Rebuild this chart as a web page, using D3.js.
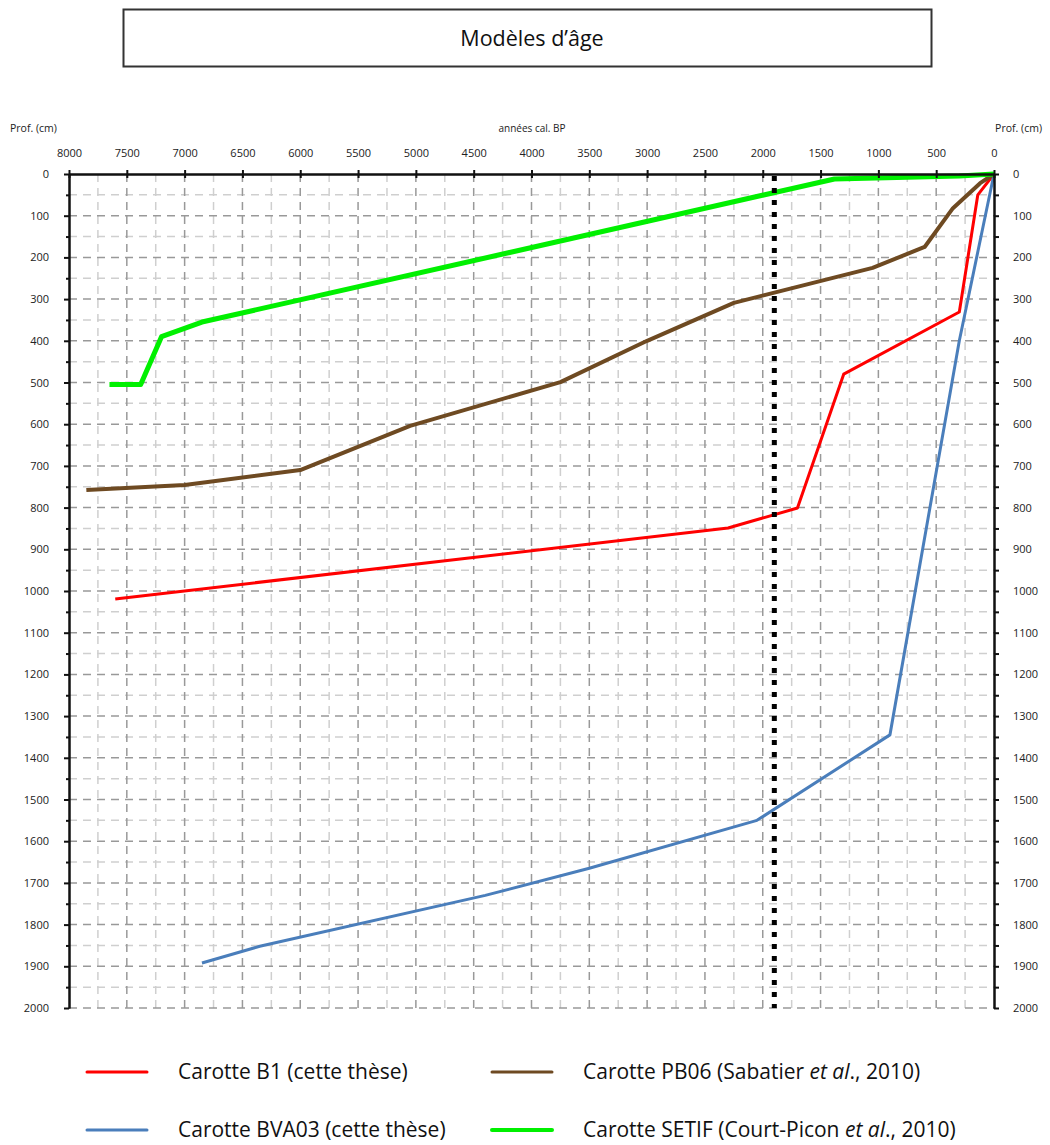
<!DOCTYPE html>
<html>
<head>
<meta charset="utf-8">
<script src="https://cdn.jsdelivr.net/npm/d3@7"></script>
<style>
  body { margin: 0; background: #fff; }
  svg { font-family: 'Open Sans', 'Noto Sans', sans-serif; }
</style>
</head>
<body>
<svg id="age-models" width="1050" height="1145"></svg>
<script>
// data : [années cal. BP, profondeur cm]
const b1 = [[7600, 1019], [2300, 849], [1700, 801], [1300, 480], [300, 331], [140, 50], [0, 0]]
const bva03 = [[6850, 1892], [6350, 1852], [4400, 1730], [3500, 1665], [2050, 1550], [900, 1345], [300, 400], [0, 0]]
const pb06 = [[7850, 758], [7000, 746], [6000, 710], [5050, 604], [3750, 499], [3000, 400], [2250, 309], [1050, 225], [600, 175], [355, 82], [120, 22], [0, 0]]
const setif = [[7650, 505], [7380, 505], [7200, 390], [6850, 355], [1380, 12], [300, 5], [0, 0]]
const refAge = 1900
const ageTicks = d3.range(0, 8001, 500)
const ageMinor = d3.range(250, 8000, 500)
const depthTicks = d3.range(0, 2001, 100)
const depthMinor = d3.range(50, 2000, 100)

const series = [
  { name: 'Carotte B1 (cette thèse)', data: b1, color: '#ff0000', width: 3 },
  { name: 'Carotte BVA03 (cette thèse)', data: bva03, color: '#4a7ebb', width: 3 },
  { name: ['Carotte PB06 (Sabatier ', 'et al', '., 2010)'], data: pb06, color: '#6e4a22', width: 4 },
  { name: ['Carotte SETIF (Court-Picon ', 'et al', '., 2010)'], data: setif, color: '#00f000', width: 5 }
]

const svg = d3.select('svg#age-models')
const [x0, x1, y0, y1] = [69, 994, 174, 1008]

const x = d3.scaleLinear().domain([8000, 0]).range([x0, x1])
const y = d3.scaleLinear().domain([0, 2000]).range([y0, y1])
const plain = d => String(d)

// titre
svg.append('rect')
  .attr('x', 123.5).attr('y', 9.5).attr('width', 808).attr('height', 57)
  .attr('fill', 'none').attr('stroke', '#333').attr('stroke-width', 2)
svg.append('text')
  .attr('x', 532).attr('y', 46)
  .style('text-anchor', 'middle').style('font-size', '21.5px').attr('fill', '#111')
  .text('Modèles d’âge')

// grille
const grid = svg.append('g')
grid.selectAll('.vminor').data(ageMinor).enter().append('line')
  .attr('x1', d => x(d)).attr('x2', d => x(d)).attr('y1', y0).attr('y2', y1)
  .attr('stroke', '#cfcfcf').attr('stroke-width', 1.5).attr('stroke-dasharray', '8,6')
grid.selectAll('.hminor').data(depthMinor).enter().append('line')
  .attr('x1', x0).attr('x2', x1).attr('y1', d => y(d)).attr('y2', d => y(d))
  .attr('stroke', '#cfcfcf').attr('stroke-width', 1.5).attr('stroke-dasharray', '8,6')
grid.selectAll('.vmajor').data(ageTicks.slice(1, -1)).enter().append('line')
  .attr('x1', d => x(d)).attr('x2', d => x(d)).attr('y1', y0).attr('y2', y1)
  .attr('stroke', '#999').attr('stroke-width', 1.5).attr('stroke-dasharray', '8,6')
grid.selectAll('.hmajor').data(depthTicks.slice(1)).enter().append('line')
  .attr('x1', x0).attr('x2', x1).attr('y1', d => y(d)).attr('y2', d => y(d))
  .attr('stroke', '#999').attr('stroke-width', 1.5).attr('stroke-dasharray', '8,6')

// courbes
const line = d3.line().x(d => x(d[0])).y(d => y(d[1]))
svg.selectAll('.serie').data(series).enter().append('path')
  .attr('d', s => line(s.data))
  .attr('fill', 'none')
  .attr('stroke', s => s.color)
  .attr('stroke-width', s => s.width)
  .attr('stroke-linejoin', 'round')

// ligne pointillée 1900 BP
svg.append('line')
  .attr('x1', x(refAge)).attr('x2', x(refAge)).attr('y1', y0 + 2).attr('y2', y1)
  .attr('stroke', '#000').attr('stroke-width', 5).attr('stroke-dasharray', '5,7')

// axes
const axisStyle = g => {
  g.select('.domain').attr('stroke', '#111').attr('stroke-width', 2)
  g.selectAll('.tick line').attr('stroke', '#111').attr('stroke-width', 2)
  g.selectAll('.tick text').attr('fill', '#222').style('font-size', '11px')
    .style('font-family', "'Open Sans', 'Noto Sans', sans-serif")
}
svg.append('g').attr('transform', `translate(0, ${y0})`)
  .call(d3.axisTop(x).tickValues(ageTicks).tickFormat(plain).tickSize(4).tickSizeOuter(0).tickPadding(13))
  .call(axisStyle)
svg.append('g').attr('transform', `translate(0, ${y0})`)
  .call(d3.axisBottom(x).tickValues(ageTicks).tickSize(4).tickSizeOuter(0).tickFormat(''))
  .call(axisStyle)

svg.append('g').attr('transform', `translate(${x0}, 0)`)
  .call(d3.axisLeft(y).tickValues(depthTicks).tickFormat(plain).tickSize(5).tickSizeOuter(0).tickPadding(15))
  .call(axisStyle)
svg.append('g').attr('transform', `translate(${x0}, 0)`)
  .call(d3.axisLeft(y).tickValues(depthMinor).tickSize(3).tickSizeOuter(0).tickFormat(''))
  .call(axisStyle)
svg.append('g').attr('transform', `translate(${x1}, 0)`)
  .call(d3.axisRight(y).tickValues(depthTicks).tickFormat(plain).tickSize(5).tickSizeOuter(0).tickPadding(14))
  .call(axisStyle)
svg.append('g').attr('transform', `translate(${x1}, 0)`)
  .call(d3.axisRight(y).tickValues(depthMinor).tickSize(5).tickSizeOuter(0).tickFormat(''))
  .call(axisStyle)

// titres des axes
svg.append('text').attr('x', 10).attr('y', 132)
  .style('font-size', '10.5px').attr('fill', '#222').text('Prof. (cm)')
svg.append('text').attr('x', 1042).attr('y', 132)
  .style('font-size', '10.5px').style('text-anchor', 'end').attr('fill', '#222').text('Prof. (cm)')
svg.append('text').attr('x', 532).attr('y', 132)
  .style('font-size', '10px').style('text-anchor', 'middle').attr('fill', '#222').text('années cal. BP')

// légende
const legendPos = [[87, 1072], [87, 1130], [492, 1072], [492, 1130]]
const legend = svg.selectAll('.legend').data(series).enter().append('g')
  .attr('transform', (s, i) => `translate(${legendPos[i][0]}, ${legendPos[i][1]})`)
legend.append('line')
  .attr('x1', 0).attr('x2', 60).attr('y1', 0).attr('y2', 0)
  .attr('stroke', s => s.color)
  .attr('stroke-width', s => Math.max(3, s.width - 1))
  .attr('stroke-linecap', 'round')
const legendText = legend.append('text')
  .attr('x', 91).attr('y', 7)
  .style('font-size', '21px').attr('fill', '#111')
legendText.each(function (s) {
  const t = d3.select(this)
  if (typeof s.name === 'string') { t.text(s.name); return }
  s.name.forEach((part, k) => {
    t.append('tspan').style('font-style', k === 1 ? 'italic' : 'normal').text(part)
  })
})
</script>
</body>
</html>
